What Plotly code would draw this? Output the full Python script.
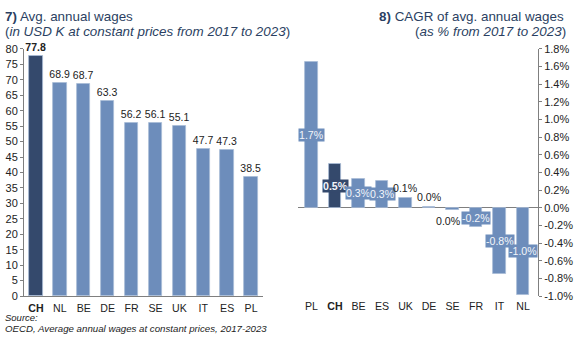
import plotly.graph_objects as go

# ---- data ----
countries_wage = ["CH", "NL", "BE", "DE", "FR", "SE", "UK", "IT", "ES", "PL"]
wages = [77.8, 68.9, 68.7, 63.3, 56.2, 56.1, 55.1, 47.7, 47.3, 38.5]

countries_cagr = ["PL", "CH", "BE", "ES", "UK", "DE", "SE", "FR", "IT", "NL"]
cagr = [1.65, 0.50, 0.33, 0.31, 0.11, 0.005, -0.02, -0.22, -0.75, -0.985]
cagr_labels = ["1.7%", "0.5%", "0.3%", "0.3%", "0.1%", "0.0%", "0.0%", "-0.2%", "-0.8%", "-1.0%"]

wage_ticks = list(range(0, 85, 5))
cagr_ticks = [-1.0, -0.8, -0.6, -0.4, -0.2, 0.0, 0.2, 0.4, 0.6, 0.8, 1.0, 1.2, 1.4, 1.6, 1.8]
highlight = "CH"

# ---- style ----
FONT = "Liberation Sans, Arial, sans-serif"
LIGHT = "#6D8DBB"
DARK = "#34496C"
EDGE = "#A8BBD6"
TXT = "#222222"
TITLE = "#2B3F62"
AXIS = "#7F7F7F"

def colors(cats):
    return [DARK if c == highlight else LIGHT for c in cats]

def bold(cats):
    return [f"<b>{c}</b>" if c == highlight else c for c in cats]

fig = go.Figure()

fig.add_trace(go.Bar(
    x=countries_wage, y=wages, xaxis="x", yaxis="y",
    marker=dict(color=colors(countries_wage), line=dict(color=EDGE, width=0.8)),
    width=0.56,
    text=[f"<b>{v:.1f}</b>" if c == highlight else f"{v:.1f}" for c, v in zip(countries_wage, wages)],
    textposition="outside", cliponaxis=False, constraintext="none",
    textfont=dict(family=FONT, size=10.5, color=TXT),
    showlegend=False, hoverinfo="skip",
))

fig.add_trace(go.Bar(
    x=countries_cagr, y=cagr, xaxis="x2", yaxis="y2",
    marker=dict(color=colors(countries_cagr), line=dict(color=EDGE, width=0.8)),
    width=0.55,
    showlegend=False, hoverinfo="skip",
))

annotations = []
for c, v, lab in zip(countries_cagr, cagr, cagr_labels):
    col = DARK if c == highlight else LIGHT
    txt = f"<b>{lab}</b>" if c == highlight else lab
    if abs(v) >= 0.2:
        annotations.append(dict(
            x=c, y=v / 2, xref="x2", yref="y2", text=txt, showarrow=False,
            bgcolor=col, borderpad=0, xanchor="center", yanchor="middle",
            font=dict(family=FONT, size=10.6, color="#F2F5FA"),
        ))
    else:
        pos = v >= 0
        annotations.append(dict(
            x=c, y=max(v, 0) if pos else v, xref="x2", yref="y2", text=txt, showarrow=False,
            xanchor="center", yanchor="bottom" if pos else "top",
            yshift=2 if pos else -3, xshift=0 if pos else -4,
            font=dict(family=FONT, size=10.6, color=TXT),
        ))

# titles
TS = 13.4
annotations += [
    dict(x=3 / 575, y=1 - 10.5 / 340, xref="paper", yref="paper", xanchor="left", yanchor="middle",
         text="<b>7)</b> Avg. annual wages", showarrow=False,
         font=dict(family=FONT, size=TS, color=TITLE)),
    dict(x=3 / 575, y=1 - 26.5 / 340, xref="paper", yref="paper", xanchor="left", yanchor="middle",
         text="(<i>in USD K at constant prices from 2017 to 2023</i>)", showarrow=False,
         font=dict(family=FONT, size=TS, color=TITLE)),
    dict(x=566 / 575, y=1 - 10.5 / 340, xref="paper", yref="paper", xanchor="right", yanchor="middle",
         text="<b>8)</b> CAGR of avg. annual wages", showarrow=False,
         font=dict(family=FONT, size=TS, color=TITLE)),
    dict(x=568 / 575, y=1 - 26.5 / 340, xref="paper", yref="paper", xanchor="right", yanchor="middle",
         text="(<i>as % from 2017 to 2023</i>)", showarrow=False,
         font=dict(family=FONT, size=TS, color=TITLE)),
    dict(x=4 / 575, y=1 - 323 / 340, xref="paper", yref="paper", xanchor="left", yanchor="middle",
         text="<i>Source:</i>", showarrow=False, borderpad=0,
         font=dict(family=FONT, size=9.5, color=TXT)),
    dict(x=4 / 575, y=1 - 334.5 / 340, xref="paper", yref="paper", xanchor="left", yanchor="middle",
         text="<i>OECD, Average annual wages at constant prices, 2017-2023</i>", showarrow=False,
         borderpad=0,
         font=dict(family=FONT, size=9.7, color=TXT)),
]

ydom = [1 - 300.7 / 340, 1 - 44.5 / 340]

fig.update_layout(
    width=575, height=340,
    margin=dict(l=0, r=0, t=0, b=0),
    paper_bgcolor="white", plot_bgcolor="white",
    font=dict(family=FONT, size=11, color=TXT),
    bargap=0,
    annotations=annotations,
    xaxis=dict(
        domain=[24 / 575, 263 / 575], anchor="y",
        tickmode="array", tickvals=countries_wage, ticktext=bold(countries_wage),
        showline=True, linecolor=AXIS, linewidth=1, ticks="", showgrid=False,
        ticklabelstandoff=2,
        tickfont=dict(family=FONT, size=10.6, color=TXT),
    ),
    yaxis=dict(
        domain=ydom, anchor="x", range=[0, 80],
        tickmode="array", tickvals=wage_ticks, ticktext=[str(t) for t in wage_ticks],
        showline=True, linecolor=AXIS, linewidth=1, ticks="outside", ticklen=3, tickcolor=AXIS,
        showgrid=False, zeroline=False,
        tickfont=dict(family=FONT, size=11, color=TXT),
    ),
    xaxis2=dict(
        domain=[298 / 575, 538 / 575], anchor="y2",
        tickmode="array", tickvals=countries_cagr, ticktext=bold(countries_cagr),
        showline=False, ticks="", showgrid=False,
        ticklabelstandoff=2,
        tickfont=dict(family=FONT, size=10.6, color=TXT),
    ),
    yaxis2=dict(
        domain=ydom, anchor="x2", side="right", range=[-1.0, 1.8],
        tickmode="array", tickvals=cagr_ticks, ticktext=[f"{t:.1f}%" for t in cagr_ticks],
        showline=True, linecolor=AXIS, linewidth=1, ticks="outside", ticklen=3, tickcolor=AXIS,
        showgrid=False, zeroline=True, zerolinecolor=AXIS, zerolinewidth=1,
        tickfont=dict(family=FONT, size=11, color=TXT),
    ),
)

fig.write_html("out.html")
